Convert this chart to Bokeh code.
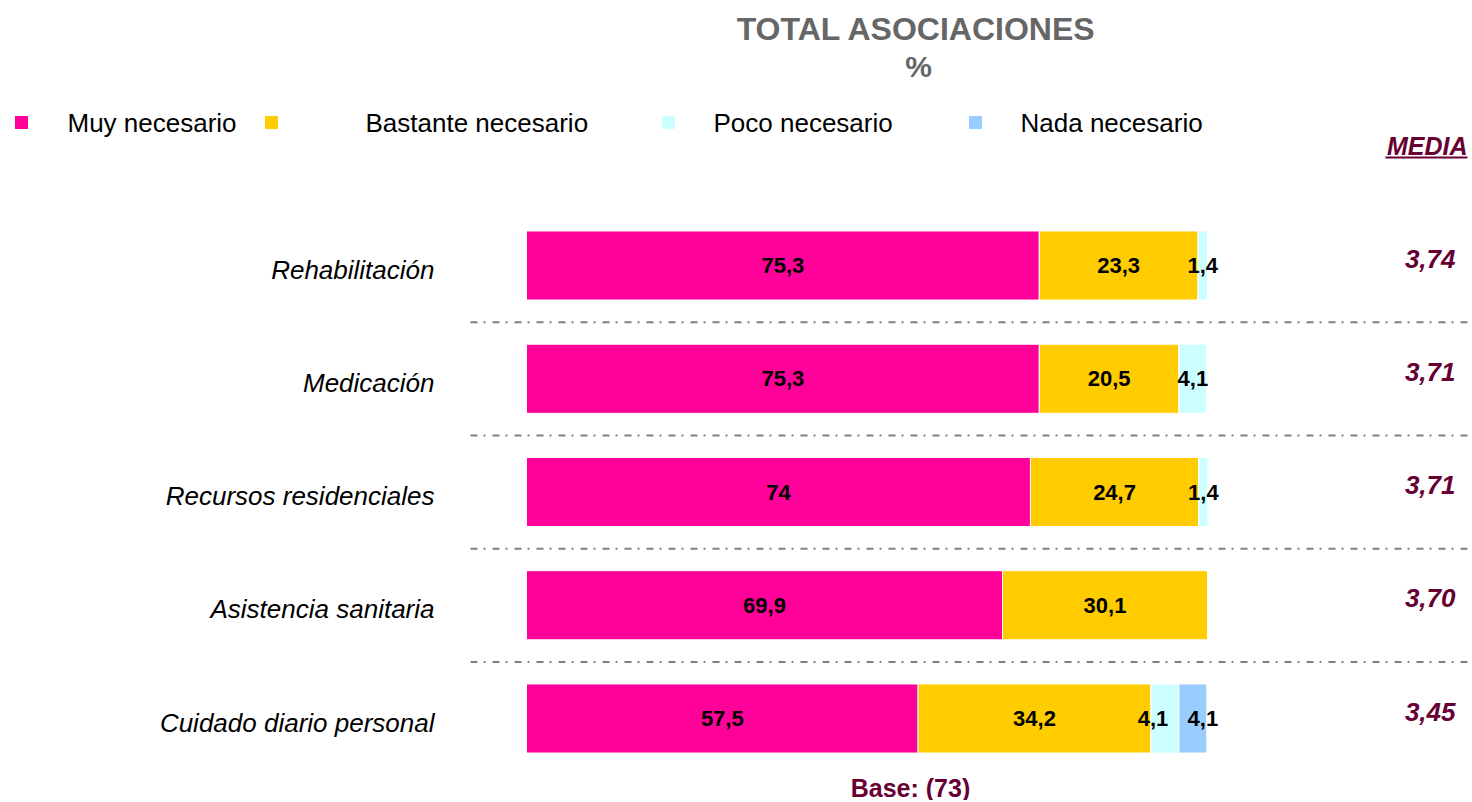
from bokeh.plotting import figure
from bokeh.models import Range1d, ColumnDataSource
from bokeh.core.properties import value
from bokeh.embed import file_html
from bokeh.resources import INLINE

# ---------------- data ----------------
categories = ["Rehabilitación", "Medicación", "Recursos residenciales",
              "Asistencia sanitaria", "Cuidado diario personal"]
series_names = ["Muy necesario", "Bastante necesario", "Poco necesario", "Nada necesario"]
muy = [75.3, 75.3, 74.0, 69.9, 57.5]
bastante = [23.3, 20.5, 24.7, 30.1, 34.2]
poco = [1.4, 4.1, 1.4, 0.0, 4.1]
nada = [0.0, 0.0, 0.0, 0.0, 4.1]
media = [3.74, 3.71, 3.71, 3.70, 3.45]
title_text = "TOTAL ASOCIACIONES"
subtitle_text = "%"
media_header = "MEDIA"
base_text = "Base: (73)"

colors = ["#FF0099", "#FFCC00", "#CCFFFF", "#99CCFF"]
MAROON = "#660033"
FONT = "Liberation Sans"

# ---------------- geometry helpers ----------------
W, H = 1470, 800
PXX = 6.81          # pixels per percent
PXY = 113.25        # pixels per row
X0 = -526 / PXX
X1 = X0 + W / PXX
Y1 = 718 / PXY
Y0 = Y1 - H / PXY


def xd(sx):
    return X0 + sx / PXX


def yd(sy):
    return Y1 - sy / PXY


p = figure(width=W, height=H, output_backend="svg", toolbar_location=None,
           x_range=Range1d(X0, X1), y_range=Range1d(Y0, Y1),
           x_axis_type=None, y_axis_type=None, min_border=0,
           background_fill_color="white", border_fill_color="white")
p.outline_line_color = None
p.xgrid.visible = False
p.ygrid.visible = False

n = len(categories)
rows = [n - 1 - i for i in range(n)]

# ---------------- separators ----------------
sep_y = [r + 0.5 for r in rows[1:]]
for y in sep_y:
    p.line([xd(470), xd(1470)], [y, y], line_color="#808080", line_width=2,
           line_dash="7 6 2 7")

# ---------------- stacked bars ----------------
series = [muy, bastante, poco, nada]
left = [0.0] * n
lab_x, lab_y, lab_t, lab_off = [], [], [], []
for k, (s, col) in enumerate(zip(series, colors)):
    right = [l + v for l, v in zip(left, s)]
    src = ColumnDataSource(dict(y=rows, left=left, right=right))
    p.hbar(y="y", left="left", right="right", height=0.61, source=src,
           fill_color=col, line_color="white", line_width=1)
    for i in range(n):
        if s[i] > 0:
            lab_x.append((left[i] + right[i]) / 2)
            lab_y.append(rows[i])
            lab_t.append(("%g" % s[i]).replace(".", ","))
            # nudge adjacent narrow labels apart so they do not overlap
            off = 0
            nxt = series[k + 1][i] if k + 1 < len(series) else 0
            prv = series[k - 1][i] if k > 0 else 100
            if s[i] < 6 and 0 < nxt < 6:
                off = -12
            elif s[i] < 6 and prv < 6:
                off = 10
            lab_off.append(off)
    left = right

p.text(x=lab_x, y=lab_y, text=lab_t, x_offset=lab_off, text_font=value(FONT),
       text_font_size=value("22px"), text_font_style="bold",
       text_color="black", text_align="center", text_baseline="middle")

# ---------------- category labels ----------------
p.text(x=[xd(434)] * n, y=[r - 4 / PXY for r in rows], text=categories,
       text_font=value(FONT), text_font_size=value("26px"),
       text_font_style="italic", text_color="black", text_align="right",
       text_baseline="middle")

# ---------------- media ----------------
media_t = [("%.2f" % m).replace(".", ",") for m in media]
p.text(x=[xd(1455)] * n, y=[r + 7 / PXY for r in rows], text=media_t,
       text_font=value(FONT), text_font_size=value("26px"),
       text_font_style="bold italic", text_color=MAROON,
       text_align="right", text_baseline="middle")

p.text(x=[xd(1467)], y=[yd(145)], text=[media_header], text_font=value(FONT),
       text_font_size=value("25px"), text_font_style="bold italic",
       text_color=MAROON, text_align="right", text_baseline="middle")
p.line([xd(1385), xd(1467)], [yd(157), yd(157)], line_color=MAROON, line_width=2)

# ---------------- titles ----------------
p.text(x=[xd(916)], y=[yd(28)], text=[title_text], text_font=value(FONT),
       text_font_size=value("32px"), text_font_style="bold",
       text_color="#666666", text_align="center", text_baseline="middle")
p.text(x=[xd(918)], y=[yd(66)], text=[subtitle_text], text_font=value(FONT),
       text_font_size=value("30px"), text_font_style="bold",
       text_color="#666666", text_align="center", text_baseline="middle")

# ---------------- legend ----------------
leg_sq_x = [21, 271, 668, 975]
leg_tx_x = [67, 365, 713, 1020]
p.scatter(x=[xd(v) for v in leg_sq_x], y=[yd(122)] * 4, marker="square", size=13,
          fill_color=colors, line_color=None)
p.text(x=[xd(v) for v in leg_tx_x], y=[yd(122)] * 4, text=series_names,
       text_font=value(FONT), text_font_size=value("26px"),
       text_color="black", text_align="left", text_baseline="middle")

# ---------------- base ----------------
p.text(x=[xd(910)], y=[yd(787)], text=[base_text], text_font=value(FONT),
       text_font_size=value("25px"), text_font_style="bold",
       text_color=MAROON, text_align="center", text_baseline="middle")

open("out.html", "w").write(file_html(p, INLINE))
